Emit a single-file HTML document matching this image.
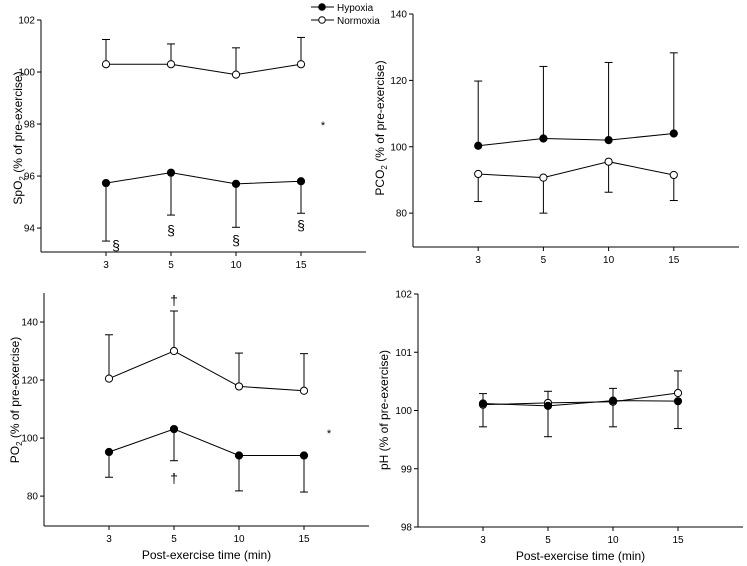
<!DOCTYPE html>
<html><head><meta charset="utf-8"><style>
body{margin:0;background:#fff;}
svg{display:block;font-family:"Liberation Sans",sans-serif;}
</style></head><body>
<svg id="c" width="747" height="566" viewBox="0 0 747 566"></svg>
<script>
const categories=["3","5","10","15"];
const spo2Hyp=[95.73,96.13,95.7,95.8];
const spo2HypErr=[93.5,94.5,94.03,94.57];
const spo2Nor=[100.3,100.3,99.9,100.3];
const spo2NorErr=[101.25,101.08,100.93,101.33];
const pco2Hyp=[100.3,102.5,102,104];
const pco2HypErr=[119.8,124.2,125.4,128.3];
const pco2Nor=[91.8,90.7,95.5,91.5];
const pco2NorErr=[83.5,80,86.3,83.8];
const po2Hyp=[95.2,103.1,94,94];
const po2HypErr=[86.5,92.2,81.8,81.4];
const po2Nor=[120.5,130,117.8,116.3];
const po2NorErr=[135.6,143.8,129.3,129.1];
const phHyp=[100.12,100.08,100.17,100.16];
const phHypErr=[99.72,99.55,99.72,99.69];
const phNor=[100.1,100.13,100.15,100.3];
const phNorErr=[100.29,100.33,100.38,100.68];
const spo2Ticks=[94,96,98,100,102];
const pco2Ticks=[80,100,120,140];
const po2Ticks=[80,100,120,140];
const phTicks=[98,99,100,101,102];

const svg=document.getElementById('c');
const NS='http://www.w3.org/2000/svg';
function el(tag,attrs,parent,text){const e=document.createElementNS(NS,tag);for(const k in attrs)e.setAttribute(k,attrs[k]);if(text!==undefined)e.textContent=text;(parent||svg).appendChild(e);return e;}

function panel(cfg){
  const g=el('g',{});
  
  
  const {x0,x1,yTop,yBot,vTop,vBot}=cfg;
  const step=(x1-x0)/5;
  const xs=i=>x0+step*(i+1);
  const ys=v=>yBot-(v-vBot)/(vTop-vBot)*(yBot-yTop);
  const ya=el('line',{x1:x0,y1:yTop,x2:x0,y2:yBot,stroke:'#000','stroke-width':1},g);
  
  const xa=el('line',{x1:x0,y1:yBot,x2:x1,y2:yBot,stroke:'#000','stroke-width':1},g);
  
  cfg.ticks.forEach(t=>{
    el('line',{x1:x0-4,y1:ys(t),x2:x0,y2:ys(t),stroke:'#000'},g);
    const tl=el('text',{x:x0-6,y:ys(t)+3.5,'text-anchor':'end','font-size':10},g,t);
    
  });
  categories.forEach((c,i)=>{
    el('line',{x1:xs(i),y1:yBot,x2:xs(i),y2:yBot+4,stroke:'#000'},g);
    const tl=el('text',{x:xs(i),y:yBot+16,'text-anchor':'middle','font-size':10},g,c);
    
  });
  const t=el('text',{transform:`translate(${cfg.titleX},${cfg.titleY}) rotate(-90)`,'text-anchor':'middle','font-size':12},g);
  
  el('tspan',{},t,cfg.tMain);
  if(cfg.tSub){el('tspan',{'font-size':8,dy:3},t,cfg.tSub);el('tspan',{dy:-3},t,' (% of pre-exercise)');}
  else el('tspan',{},t,' (% of pre-exercise)');
  if(cfg.xTitle){const xt=el('text',{x:(x0+x1)/2,y:yBot+33,'text-anchor':'middle','font-size':12},g,'Post-exercise time (min)');
    }
  cfg.series.forEach(s=>{
    s.err.forEach((e,i)=>{
      el('line',{x1:xs(i),y1:ys(s.vals[i]),x2:xs(i),y2:ys(e),stroke:'#000'},g);
      el('line',{x1:xs(i)-4,y1:ys(e),x2:xs(i)+4,y2:ys(e),stroke:'#000'},g);
    });
    const pl=el('polyline',{points:s.vals.map((v,i)=>xs(i)+','+ys(v)).join(' '),fill:'none',stroke:'#000'},g);
    
  });
  cfg.series.forEach(s=>{
    s.vals.forEach((v,i)=>{
      const p=el('circle',{cx:xs(i),cy:ys(v),r:3.6,fill:s.fill,stroke:'#000','stroke-width':1},g);
      
    });
  });
  (cfg.marks||[]).forEach(m=>{
    const mk=el('text',{x:m[0],y:m[1],'text-anchor':'middle','font-size':m[3]||14},g,m[2]);
    
  });
}

panel({name:'spo2-panel',x0:41,x1:366,yTop:20,yBot:252,vTop:102,vBot:93.08,ticks:spo2Ticks,titleX:22,titleY:138,tMain:'SpO',tSub:'2',
  series:[{name:'normoxia',vals:spo2Nor,err:spo2NorErr,fill:'#fff'},{name:'hypoxia',vals:spo2Hyp,err:spo2HypErr,fill:'#000'}],
  marks:[[116,250,'§'],[171,235,'§'],[236,245,'§'],[301,230,'§'],[323,129,'*',11]]});
panel({name:'pco2-panel',x0:413,x1:739,yTop:14,yBot:247,vTop:140,vBot:69.8,ticks:pco2Ticks,titleX:384,titleY:128,tMain:'PCO',tSub:'2',
  series:[{name:'hypoxia',vals:pco2Hyp,err:pco2HypErr,fill:'#000'},{name:'normoxia',vals:pco2Nor,err:pco2NorErr,fill:'#fff'}]});
panel({name:'po2-panel',x0:44,x1:369,yTop:293,yBot:526,vTop:150,vBot:69.7,ticks:po2Ticks,titleX:19,titleY:400,tMain:'PO',tSub:'2',xTitle:true,
  series:[{name:'normoxia',vals:po2Nor,err:po2NorErr,fill:'#fff'},{name:'hypoxia',vals:po2Hyp,err:po2HypErr,fill:'#000'}],
  marks:[[174,305,'†'],[174,483,'†'],[329,437,'*',11]]});
panel({name:'ph-panel',x0:418,x1:743,yTop:294,yBot:527,vTop:102,vBot:98,ticks:phTicks,titleX:388,titleY:410,tMain:'pH',xTitle:true,
  series:[{name:'normoxia',vals:phNor,err:phNorErr,fill:'#fff'},{name:'hypoxia',vals:phHyp,err:phHypErr,fill:'#000'}]});

const lg=el('g',{});

const e1=el('g',{},lg);
el('line',{x1:311,y1:7,x2:334,y2:7,stroke:'#000'},e1);
el('circle',{cx:322,cy:7,r:3.3,fill:'#000',stroke:'#000'},e1);
el('text',{x:337,y:11,'font-size':10},e1,'Hypoxia');
const e2=el('g',{},lg);
el('line',{x1:311,y1:20,x2:334,y2:20,stroke:'#000'},e2);
el('circle',{cx:322,cy:20,r:3.3,fill:'#fff',stroke:'#000'},e2);
el('text',{x:337,y:24,'font-size':10},e2,'Normoxia');
</script>
</body></html>
